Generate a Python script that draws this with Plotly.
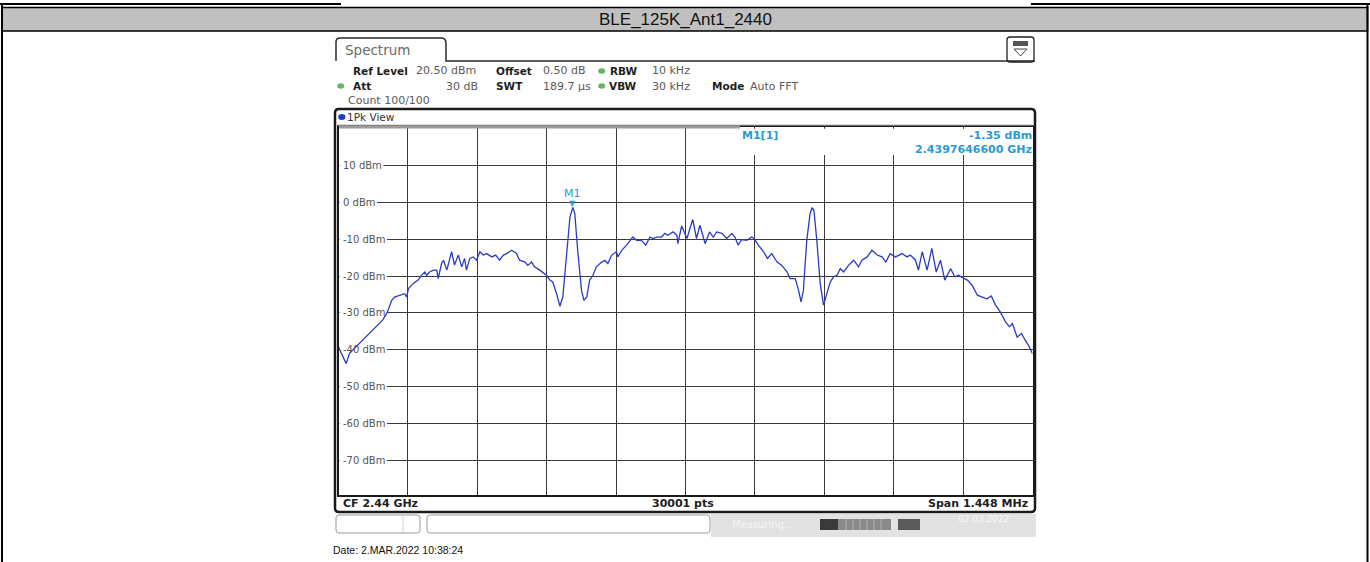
import re
import plotly.graph_objects as go

W, H = 1370, 562

# ---------------- data ----------------
TITLE = "BLE_125K_Ant1_2440"
CF_GHZ = 2.44
SPAN_MHZ = 1.448
REF_LEVEL_DBM = 20.5
Y_DIVS_DB = 10
N_DIVS = 10
Y_TICKS_DBM = [10, 0, -10, -20, -30, -40, -50, -60, -70]
Y_TICK_LABELS = ["10 dBm", "0 dBm", "-10 dBm", "-20 dBm", "-30 dBm", "-40 dBm", "-50 dBm", "-60 dBm", "-70 dBm"]

FREQ_OFFSET_KHZ = [
    -724, -708, -701, -680, -674, -659, -645, -632, -622, -613, -607, -597, -586, -582, -578,
    -568, -558, -551, -544, -540, -534, -526, -519, -516, -509, -505, -498, -488, -482, -474,
    -467, -461, -457, -450, -443, -436, -429, -422, -415, -404, -396, -388, -380, -373, -363,
    -353, -346, -335, -329, -321, -315, -304, -298, -290, -283, -277, -269, -262, -256, -248,
    -241, -235, -231, -225, -217, -212, -206, -200, -193, -186, -175, -168, -162, -154, -144,
    -141, -133, -123, -116, -110, -102, -92, -83, -74, -68, -60, -50, -43, -37, -26,
    -18, -16, -8, -2, 3, 15, 23, 30, 41, 50, 58, 65, 76, 86, 97,
    103, 110, 117, 128, 138, 143, 152, 163, 171, 180, 191, 201, 212, 218, 229,
    236, 241, 246, 253, 260, 264, 268, 274, 281, 288, 295, 302, 309, 316, 323,
    330, 340, 351, 354, 361, 368, 379, 389, 400, 410, 418, 427, 438, 452, 462,
    469, 480, 486, 494, 504, 514, 523, 532, 541, 553, 562, 570, 577, 588, 598,
    609, 619, 629, 638, 647, 657, 668, 676, 682, 692, 701, 709, 716, 724,
]
LEVEL_DBM = [
    -39.3, -43.8, -41.0, -38.3, -37.5, -35.6, -33.8, -32.0, -29.8, -26.6, -25.7, -25.2, -24.8, -25.7, -23.4,
    -22.0, -21.1, -19.8, -18.9, -19.8, -18.9, -18.4, -18.4, -20.7, -16.6, -15.7, -18.4, -13.4, -17.0, -14.3,
    -17.5, -15.2, -18.4, -15.2, -14.8, -15.7, -13.4, -14.3, -13.9, -14.8, -14.3, -15.7, -14.3, -13.9, -13.0,
    -13.8, -15.7, -16.2, -17.1, -16.2, -17.5, -18.4, -18.9, -19.8, -21.1, -21.6, -24.8, -28.2, -25.7, -14.8,
    -3.9, -1.35, -3.0, -13.0, -23.9, -26.6, -25.7, -21.1, -19.8, -17.5, -16.2, -15.7, -16.6, -14.3, -13.4,
    -14.8, -13.0, -11.6, -10.3, -9.4, -10.3, -10.3, -11.6, -9.4, -9.8, -9.4, -9.4, -8.4, -8.9, -8.0,
    -8.9, -11.2, -6.4, -8.5, -9.8, -4.6, -9.8, -6.2, -11.2, -8.0, -9.4, -8.0, -8.4, -9.8, -8.4,
    -9.4, -11.6, -10.1, -10.3, -9.4, -9.8, -11.6, -13.4, -15.2, -13.9, -16.2, -17.1, -18.9, -20.7, -20.7,
    -23.9, -27.0, -23.9, -10.3, -3.0, -1.4, -2.2, -10.3, -22.0, -27.9, -24.8, -21.6, -20.2, -19.8, -18.0,
    -18.9, -17.1, -15.7, -16.2, -17.5, -15.7, -14.8, -13.0, -14.3, -14.8, -16.2, -13.9, -14.8, -13.9, -14.8,
    -14.3, -15.7, -18.4, -13.4, -18.4, -12.5, -18.9, -15.7, -21.1, -18.0, -20.2, -19.8, -20.4, -21.1, -22.5,
    -25.2, -25.7, -26.2, -25.4, -27.9, -29.8, -32.5, -33.8, -32.9, -36.6, -35.6, -37.5, -38.9, -41.1,
]
assert len(FREQ_OFFSET_KHZ) == len(LEVEL_DBM)

MARKER_FREQ_GHZ = 2.4397646600
MARKER_LEVEL_DBM = -1.35

HEADER_ROW1 = [("Ref Level", True), ("20.50 dBm", False), ("Offset", True), ("0.50 dB", False), ("RBW", True), ("10 kHz", False)]
HEADER_ROW2 = [("Att", True), ("30 dB", False), ("SWT", True), ("189.7 µs", False), ("VBW", True), ("30 kHz", False), ("Mode", True), ("Auto FFT", False)]
COUNT_TEXT = "Count 100/100"
FOOTER = ["CF 2.44 GHz", "30001 pts", "Span 1.448 MHz"]
DATE_TEXT = "Date: 2.MAR.2022 10:38:24"

# ---------------- helpers ----------------
PLOT_L, PLOT_R, PLOT_T, PLOT_B = 338.5, 1032.5, 127, 495

def px(x):
    return x / W

def py(y):
    return 1 - y / H

def ppath(s):
    return re.sub(r'(-?\d+\.?\d*),(-?\d+\.?\d*)',
                  lambda m: f"{float(m.group(1))/W:.6f},{1-float(m.group(2))/H:.6f}", s)

shapes = []
annotations = []

def rect(x0, y0, x1, y1, fill=None, line=None, lw=1, layer="above"):
    shapes.append(dict(type="rect", xref="paper", yref="paper",
                       x0=px(x0), x1=px(x1), y0=py(y1), y1=py(y0),
                       fillcolor=fill if fill else "rgba(0,0,0,0)",
                       line=dict(color=line if line else "rgba(0,0,0,0)", width=lw if line else 0),
                       layer=layer))

def hline(x0, x1, y, color="black", lw=1):
    shapes.append(dict(type="line", xref="paper", yref="paper", x0=px(x0), x1=px(x1),
                       y0=py(y), y1=py(y), line=dict(color=color, width=lw)))

def vline(x, y0, y1, color="black", lw=1):
    shapes.append(dict(type="line", xref="paper", yref="paper", x0=px(x), x1=px(x),
                       y0=py(y0), y1=py(y1), line=dict(color=color, width=lw)))

def path(s, color="#333", lw=1.5, fill=None, layer="above"):
    shapes.append(dict(type="path", xref="paper", yref="paper", path=ppath(s),
                       line=dict(color=color, width=lw),
                       fillcolor=fill if fill else "rgba(0,0,0,0)", layer=layer))

def dot(x, y, r, color):
    shapes.append(dict(type="circle", xref="paper", yref="paper",
                       x0=px(x - r), x1=px(x + r), y0=py(y + r * 0.8), y1=py(y - r * 0.8),
                       fillcolor=color, line=dict(width=0)))

def text(x, y, s, size=11, color="#555", bold=False, anchor="left", family="DejaVu Sans"):
    dx = -2 if anchor == "left" else (2 if anchor == "right" else 0)
    annotations.append(dict(xref="paper", yref="paper", x=px(x + dx), y=py(y), text=s,
                            showarrow=False, xanchor=anchor, yanchor="middle",
                            font=dict(family=family, size=size, color=color,
                                      weight="bold" if bold else "normal")))

# axis geometry
half_span_khz = SPAN_MHZ * 1000 / 2
div_khz = SPAN_MHZ * 1000 / N_DIVS
x_tickvals = [-half_span_khz + k * div_khz for k in range(1, N_DIVS)]
y_bottom = REF_LEVEL_DBM - N_DIVS * Y_DIVS_DB

def xdata(pxl):
    return -half_span_khz + (pxl - PLOT_L) * (2 * half_span_khz) / (PLOT_R - PLOT_L)

def ydata(pyl):
    return REF_LEVEL_DBM - (pyl - PLOT_T) * (REF_LEVEL_DBM - y_bottom) / (PLOT_B - PLOT_T)

def cover(x0p, x1p, y0d, y1d):
    # white patch between grid and trace (data refs)
    shapes.append(dict(type="rect", xref="x", yref="y", x0=x0p, x1=x1p, y0=y0d, y1=y1d,
                       fillcolor="white", line=dict(width=0), layer="between"))

# ---------------- report frame ----------------
hline(0, 341, 4, "black", 2)
hline(1031, 1370, 4, "black", 2)
rect(2, 7.5, 1367.5, 31, fill="#c0c0c0", line="black", lw=1.5)
vline(2, 4, 562, "black", 2)
vline(1367.5, 4, 562, "black", 2)
text(685, 19.5, TITLE, size=17, color="#111", anchor="center", family="Liberation Sans, Arial")

# ---------------- analyzer screen ----------------
path("M336,61 L336,42 Q336,38 340,38 L441,38 Q446,38 446,43 L446,61 L1035,61", color="#2a2a2a", lw=1.5)
text(345, 50.5, "Spectrum", size=13.5, color="#6a6a6a")
path("M1007,40 Q1007,37 1010,37 L1031,37 Q1034,37 1034,40 L1034,59 Q1034,62 1031,62 L1010,62 Q1007,62 1007,59 Z",
     color="#222", lw=1.3)
rect(1013, 41, 1028, 46, fill="#555")
path("M1014,49 L1027,49 L1020.5,56 Z", color="#444", lw=1)

GREEN = "#62b85a"
row1_x = [352.7, 416, 495.7, 543.3, 610, 651.7]
for (s, b), x in zip(HEADER_ROW1, row1_x):
    text(x, 71, s, size=10.5 if b else 11, color="#1e1e1e" if b else "#5a5a5a", bold=b)
dot(601.7, 71, 3.5, GREEN)
row2_x = [352.7, None, 495.7, 542.7, 609.3, 651.7, 712, 750]
for (s, b), x in zip(HEADER_ROW2, row2_x):
    if x is None:
        text(478.3, 86, s, size=11, color="#5a5a5a", anchor="right")
    else:
        text(x, 86, s, size=10.5 if b else 11, color="#1e1e1e" if b else "#5a5a5a", bold=b)
dot(340.7, 86, 3.5, GREEN)
dot(601.7, 86, 3.5, GREEN)
text(348, 100.5, COUNT_TEXT, size=11, color="#5a5a5a")

# diagram frame
path("M335,113 Q335,109 339,109 L1031,109 Q1035,109 1035,113 L1035,508 Q1035,512 1031,512 L339,512 Q335,512 335,508 Z",
     color="#1a1a1a", lw=2.5)
dot(341.8, 117, 3.6, "#1f3cc4")
text(346.5, 116.5, "1Pk View", size=10.5, color="#333")
hline(336, 1034, 125, "#bbbbbb", 1)

# bottom status bar
rect(711, 514, 1036, 537, fill="#e2e2e2")
path("M339,515 L417,515 Q420,515 420,518 L420,530 Q420,533 417,533 L339,533 Q336,533 336,530 L336,518 Q336,515 339,515 Z",
     color="#9a9a9a", lw=1, fill="white")
vline(403, 516, 532, "#cfcfcf", 1)
path("M430,515 L707,515 Q710,515 710,518 L710,530 Q710,533 707,533 L430,533 Q427,533 427,530 L427,518 Q427,515 430,515 Z",
     color="#9a9a9a", lw=1, fill="white")
text(732, 524, "Measuring...", size=10, color="#f4f4f4")
rect(820, 519, 838, 530, fill="#3a3a3a")
rect(838, 519, 891, 530, fill="#8a8a8a")
for xx in [846, 853, 860, 867, 874, 881]:
    vline(xx, 519, 530, "#b0b0b0", 1)
rect(898, 519, 920, 530, fill="#5a5a5a")
text(958, 519, "02.03.2022", size=9, color="#f7f7f7")

# y label backgrounds (hide grid line under label, below trace)
def label_width(s, size=10):
    w = {' ': .318, '-': .361, 'd': .635, 'B': .686, 'm': .974}
    return sum(w.get(c, .636) for c in s) * size

for v, lab in zip(Y_TICKS_DBM, Y_TICK_LABELS):
    cover(xdata(PLOT_L + 1), xdata(343 + label_width(lab) + 1.5), v - 1.2, v + 1.2)

# marker info box patch
cover(xdata(741), xdata(PLOT_R - 1), ydata(155), ydata(128.8))
rect(339, 125.6, 740, 128.6, fill="#9c9c9c")

# footer texts in diagram
text(343, 503, FOOTER[0], size=11, color="#1e1e1e", bold=True)
text(683, 503, FOOTER[1], size=11, color="#1e1e1e", bold=True, anchor="center")
text(1028, 503, FOOTER[2], size=11, color="#1e1e1e", bold=True, anchor="right")

# marker readout
BLUE_M = "#2c9ad3"
text(742, 135, "M1[1]", size=11, color=BLUE_M, bold=True)
text(1032, 135, f"{MARKER_LEVEL_DBM:.2f} dBm", size=11, color=BLUE_M, bold=True, anchor="right")
text(1032, 149, f"{MARKER_FREQ_GHZ:.10f} GHz", size=11, color=BLUE_M, bold=True, anchor="right")

text(333, 550, DATE_TEXT, size=10.5, color="#111", family="Liberation Sans, Arial")

# ---------------- axes / trace ----------------
fig = go.Figure()
fig.add_trace(go.Scatter(x=FREQ_OFFSET_KHZ, y=LEVEL_DBM, mode="lines",
                         line=dict(color="rgb(44,58,196)", width=1.3), hoverinfo="skip"))

marker_x = (MARKER_FREQ_GHZ - CF_GHZ) * 1e6
annotations.append(dict(xref="x", yref="y", x=marker_x, y=MARKER_LEVEL_DBM, text="▼", showarrow=False,
                        xanchor="center", yanchor="bottom", yshift=-3,
                        font=dict(family="DejaVu Sans", size=8, color=BLUE_M)))
annotations.append(dict(xref="x", yref="y", x=marker_x, y=MARKER_LEVEL_DBM, text="M1", showarrow=False,
                        xanchor="center", yanchor="bottom", yshift=5,
                        font=dict(family="DejaVu Sans", size=11, color=BLUE_M)))

for v, lab in zip(Y_TICKS_DBM, Y_TICK_LABELS):
    annotations.append(dict(xref="x", yref="y", x=xdata(341), y=v, text=lab,
                            showarrow=False, xanchor="left", yanchor="middle",
                            font=dict(family="DejaVu Sans", size=10, color="#555")))

fig.update_layout(
    width=W, height=H, margin=dict(l=0, r=0, t=0, b=0),
    paper_bgcolor="white", plot_bgcolor="white", showlegend=False,
    xaxis=dict(domain=[px(PLOT_L), px(PLOT_R)], range=[-half_span_khz, half_span_khz],
               tickmode="array", tickvals=x_tickvals, showticklabels=False, ticks="",
               showgrid=True, gridcolor="#3a3a3a", gridwidth=1, zeroline=False,
               showline=True, mirror=True, linecolor="#1a1a1a", linewidth=1.5, fixedrange=True),
    yaxis=dict(domain=[py(PLOT_B), py(PLOT_T)], range=[y_bottom, REF_LEVEL_DBM],
               tickmode="array", tickvals=Y_TICKS_DBM, showticklabels=False, ticks="",
               showgrid=True, gridcolor="#3a3a3a", gridwidth=1, zeroline=False,
               showline=True, mirror=True, linecolor="#1a1a1a", linewidth=1.5, fixedrange=True),
    shapes=shapes, annotations=annotations,
)

fig.write_html("out.html")
